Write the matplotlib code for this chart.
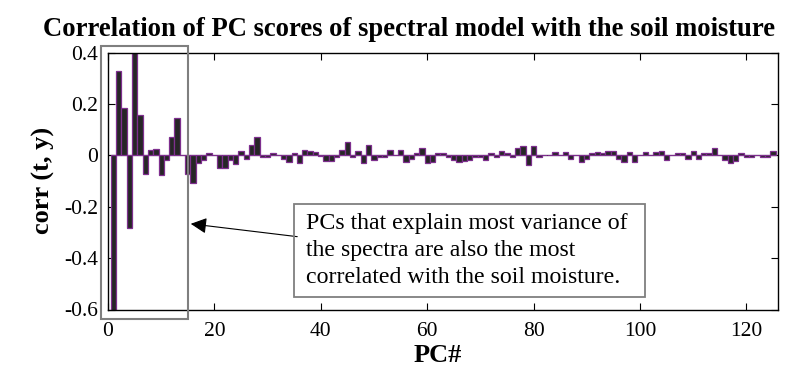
import matplotlib
matplotlib.use('Agg')
import matplotlib.pyplot as plt
from matplotlib.patches import Rectangle
from matplotlib.ticker import FuncFormatter

plt.rcParams['font.family'] = ['Liberation Serif', 'DejaVu Serif']
plt.rcParams['axes.unicode_minus'] = False

# correlacion de cada PC con la humedad del suelo
pc_corr = [
    -0.615, 0.330, 0.183, -0.283, 0.410, 0.159, -0.072, 0.022, 0.026, -0.075,
    -0.017, 0.072, 0.147, 0.000, -0.073, -0.109, -0.031, -0.018, 0.008, 0.000,
    -0.050, -0.050, -0.018, -0.035, 0.016, -0.012, 0.040, 0.070, -0.005, -0.008,
    0.008, 0.000, -0.012, -0.027, 0.008, -0.031, 0.023, 0.018, 0.012, -0.003,
    -0.023, -0.021, -0.008, 0.020, 0.051, -0.008, 0.016, -0.031, 0.039, -0.018,
    -0.005, -0.005, 0.023, 0.000, 0.023, -0.025, -0.012, 0.008, 0.027, -0.031,
    -0.025, 0.008, 0.008, -0.008, -0.016, -0.025, -0.021, -0.016, -0.005, -0.008,
    -0.016, 0.008, -0.008, 0.016, 0.008, -0.008, 0.027, 0.035, -0.039, 0.035,
    -0.008, 0.000, 0.000, 0.012, 0.000, 0.012, -0.012, 0.000, -0.025, -0.012,
    0.008, 0.012, 0.008, 0.018, 0.018, -0.012, -0.027, 0.012, -0.025, 0.000,
    0.012, 0.000, 0.012, 0.018, -0.018, 0.000, 0.008, 0.008, -0.012, 0.018,
    -0.012, 0.008, 0.008, 0.027, 0.000, -0.016, -0.031, -0.021, 0.008, -0.005,
    -0.005, 0.000, -0.008, -0.008, 0.018,
]
pc_num = list(range(1, len(pc_corr) + 1))
x_ticks = [0, 20, 40, 60, 80, 100, 120]
y_ticks = [-0.6, -0.4, -0.2, 0, 0.2, 0.4]
note_lines = ['PCs that explain most variance of',
              'the spectra are also the most',
              'correlated with the soil moisture.']

W, H = 802, 374
fig = plt.figure(figsize=(W / 100, H / 100), dpi=100)
ax = fig.add_axes([108 / W, 1 - 309.5 / H, (778.3 - 108) / W, (309.5 - 52.7) / H])

ax.axhline(0, color='black', lw=0.8, zorder=1)
ax.bar(pc_num, pc_corr, width=1.0, color='#262626', edgecolor='#7E2F8E', linewidth=0.9, zorder=2)

ax.set_xlim(0, 126)
ax.set_ylim(-0.6, 0.4)
ax.set_xticks(x_ticks)
ax.set_yticks(y_ticks)
ax.yaxis.set_major_formatter(FuncFormatter(lambda v, p: '%g' % v))
ax.tick_params(direction='in', length=5, width=0.8, top=True, right=True, labelsize=15.5)
ax.tick_params(axis='x', pad=9)
ax.tick_params(axis='y', pad=7)
for s in ax.spines.values():
    s.set_linewidth(1.0)

fig.text(409 / W, 1 - 30 / H, 'Correlation of PC scores of spectral model with the soil moisture',
         ha='center', va='center', fontsize=19.2, fontweight='bold')
fig.text(438 / W, 1 - 356 / H, 'PC#', ha='center', va='center', fontsize=19, fontweight='bold')
fig.text(43 / W, 1 - 180 / H, 'corr (t, y)', ha='center', va='center', rotation=90,
         fontsize=19, fontweight='bold')

# recuadro gris alrededor de los primeros PCs
ax.add_patch(Rectangle((-1.3, -0.637), 16.3, 1.063, fill=False, edgecolor='#7f7f7f',
                       lw=1.5, clip_on=False, zorder=5))

# caja con el comentario
fig.patches.append(Rectangle((294 / W, 1 - 297 / H), (645 - 294) / W, (297 - 204) / H,
                             transform=fig.transFigure, fill=False, edgecolor='#7f7f7f', lw=1.3))
for i, line in enumerate(note_lines):
    fig.text(306 / W, 1 - (229 + 27 * i) / H, line, ha='left', va='baseline', fontsize=17.2)

ax.annotate('', xy=(188 / W, 1 - 223.5 / H), xycoords='figure fraction',
            xytext=(300 / W, 1 - 237 / H), textcoords='figure fraction',
            arrowprops=dict(arrowstyle='-|>', color='black', lw=0.8, mutation_scale=24))

fig.savefig('out.png', dpi=100)
